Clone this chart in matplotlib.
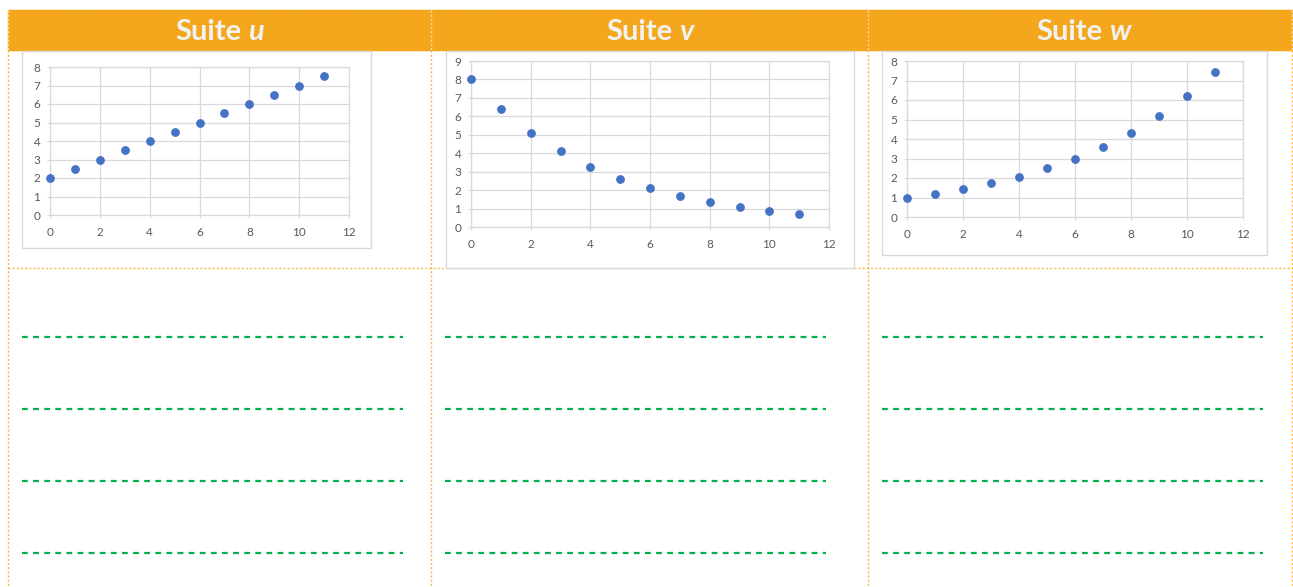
import numpy as np
import matplotlib.pyplot as plt
from matplotlib.patches import Rectangle

# data
n = np.arange(12)
u_vals = [2, 2.5, 3, 3.5, 4, 4.5, 5, 5.5, 6, 6.5, 7, 7.5]
v_vals = [8, 6.4, 5.12, 4.1, 3.28, 2.62, 2.1, 1.68, 1.34, 1.07, 0.86, 0.69]
w_vals = [1, 1.2, 1.44, 1.73, 2.07, 2.49, 2.99, 3.58, 4.3, 5.16, 6.19, 7.43]
names = ["u", "v", "w"]
y_max = [8, 9, 8]

W, H = 1293, 587
orange = "#F4A71D"
green = "#00B050"
blue = "#4472C4"
grid_col = "#D9D9D9"
txt_col = "#595959"

fig = plt.figure(figsize=(W / 100, H / 100), dpi=100)

# background layer in pixel coordinates
bg = fig.add_axes([0, 0, 1, 1])
bg.set_xlim(0, W)
bg.set_ylim(H, 0)
bg.axis("off")

# header band
bg.add_patch(Rectangle((8, 10), W - 8, 40, color=orange, zorder=1))
# dotted frame lines
dot = dict(color=orange, lw=1, ls=(0, (1.5, 1.5)), alpha=0.8, zorder=2)
bg.plot([8, W], [10, 10], **dot)
bg.plot([8, W], [50, 50], **dot)
bg.plot([8, W], [268, 268], **dot)
for xv in [8, 431, 868, 1292]:
    bg.plot([xv, xv], [50, H], **dot)
    bg.plot([xv, xv], [10, 50], color="white", lw=1, ls=(0, (1.5, 1.5)), alpha=0.6, zorder=2)

# titles
centers = [219, 650, 1080]
for c, name in zip(centers, names):
    bg.text(c + 22, 32, "Suite", ha="right", va="center", fontsize=21,
            fontweight="bold", family="Lato", color="#F2F2F2", zorder=3)
    bg.text(c + 29, 32, name, ha="left", va="center", fontsize=21,
            fontweight="bold", style="italic", family="Lato", color="#F2F2F2", zorder=3)

# writing lines
line_x = [(22, 403), (445, 826), (882, 1263)]
for x0, x1 in line_x:
    for yv in [337, 409, 481, 553]:
        bg.plot([x0, x1], [yv, yv], color=green, lw=1.6, ls=(0, (2.6, 2.4)), zorder=2)

# chart boxes (pixels) and plot areas (pixels)
boxes = [(22, 51, 371, 248), (446, 51, 854, 268), (882, 51, 1267, 255)]
areas = [(50, 67, 349, 215), (471, 61, 829, 227), (907, 61, 1243, 217)]
series = [u_vals, v_vals, w_vals]

for box, area, vals, ym in zip(boxes, areas, series, y_max):
    bx0, by0, bx1, by1 = box
    bg.add_patch(Rectangle((bx0, by0), bx1 - bx0, by1 - by0, facecolor="white",
                           edgecolor=grid_col, lw=1, zorder=2))
    x0, y0, x1, y1 = area
    ax = fig.add_axes([x0 / W, 1 - y1 / H, (x1 - x0) / W, (y1 - y0) / H])
    ax.set_facecolor("white")
    ax.scatter(n, vals, s=28, color=blue, zorder=3, clip_on=False)
    ax.set_xlim(0, 12)
    ax.set_ylim(0, ym)
    ax.set_xticks(range(0, 13, 2))
    ax.set_yticks(range(0, ym + 1))
    ax.grid(True, color=grid_col, lw=0.9)
    ax.set_axisbelow(True)
    for s in ax.spines.values():
        s.set_color(grid_col)
        s.set_linewidth(0.9)
    ax.tick_params(axis="both", length=2, color=grid_col, labelsize=8.5,
                   labelcolor=txt_col)
    ax.tick_params(axis="x", pad=7)
    ax.tick_params(axis="y", pad=5)
    for lab in ax.get_xticklabels() + ax.get_yticklabels():
        lab.set_family("Lato")

fig.savefig("out.png", dpi=100)
